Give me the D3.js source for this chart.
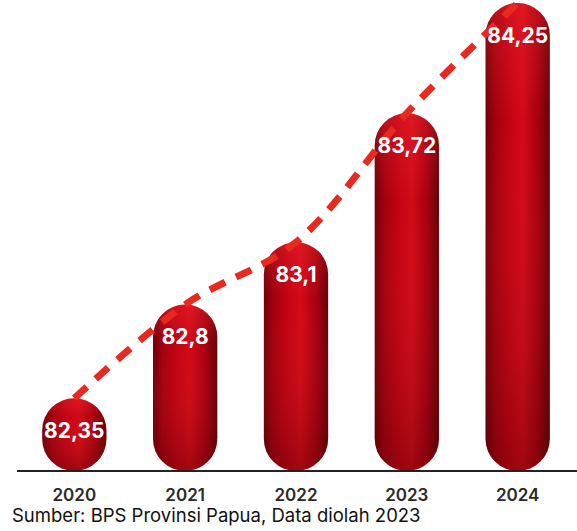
<!DOCTYPE html>
<html lang="id">
<head>
<meta charset="UTF-8">
<title>Chart</title>
<style>
  body { margin: 0; background: #fff; }
  svg { display: block; }
</style>
</head>
<body>
<div id="chart"></div>
<script src="https://d3js.org/d3.v7.min.js"></script>
<script>
// data
const years = ["2020", "2021", "2022", "2023", "2024"];
const values = [82.35, 82.8, 83.1, 83.72, 84.25];
const valueLabels = ["82,35", "82,8", "83,1", "83,72", "84,25"];
const source = "Sumber: BPS Provinsi Papua, Data diolah 2023";

const width = 577, height = 531;
const baseY = 471;

const svg = d3.select("#chart").append("svg")
  .attr("width", width)
  .attr("height", height);

const x = d3.scaleBand()
  .domain(years)
  .range([20, 572])
  .paddingInner(0.42)
  .paddingOuter(0.2);

const y = d3.scaleLinear()
  .domain([82, 84.25])
  .range([baseY, 3]);

const bw = x.bandwidth();

// gradients
const defs = svg.append("defs");
const grad = defs.append("linearGradient")
  .attr("id", "barGrad")
  .attr("x1", "0%").attr("x2", "100%").attr("y1", "0%").attr("y2", "0%");
grad.selectAll("stop")
  .data([
    ["0%", "#6e0008"], ["15%", "#a3000e"], ["40%", "#c60414"],
    ["58%", "#d20a18"], ["82%", "#a5000f"], ["100%", "#620006"]
  ])
  .join("stop")
  .attr("offset", d => d[0])
  .attr("stop-color", d => d[1]);

const shine = defs.append("linearGradient")
  .attr("id", "shine")
  .attr("x1", "0%").attr("x2", "0%").attr("y1", "0%").attr("y2", "100%");
shine.append("stop").attr("offset", "0%").attr("stop-color", "#ff4040").attr("stop-opacity", 0.25);
shine.append("stop").attr("offset", "25%").attr("stop-color", "#ff4040").attr("stop-opacity", 0);
shine.append("stop").attr("offset", "100%").attr("stop-color", "#300000").attr("stop-opacity", 0.3);

// bars (pill shape)
const bars = svg.append("g");
years.forEach((yr, i) => {
  const top = y(values[i]);
  const h = baseY - top;
  bars.append("rect")
    .attr("x", x(yr))
    .attr("y", top)
    .attr("width", bw)
    .attr("height", h)
    .attr("rx", bw / 2)
    .attr("fill", "url(#barGrad)");
  bars.append("rect")
    .attr("x", x(yr))
    .attr("y", top)
    .attr("width", bw)
    .attr("height", h)
    .attr("rx", bw / 2)
    .attr("fill", "url(#shine)");
});

// baseline
svg.append("line")
  .attr("x1", 17).attr("x2", width)
  .attr("y1", baseY).attr("y2", baseY)
  .attr("stroke", "#222")
  .attr("stroke-width", 2);

// dashed trend line
const pts = years.map((yr, i) => [x(yr) + bw / 2, y(values[i])]);
const line = d3.line().curve(d3.curveCatmullRom.alpha(0.5));
svg.append("path")
  .attr("d", line(pts))
  .attr("fill", "none")
  .attr("stroke", "#e8291f")
  .attr("stroke-width", 7)
  .attr("stroke-dasharray", "17 12");

// value labels
svg.append("g").selectAll("text")
  .data(years)
  .join("text")
  .attr("x", d => x(d) + bw / 2)
  .attr("y", (d, i) => y(values[i]) + bw / 2)
  .attr("dy", "0.36em")
  .attr("text-anchor", "middle")
  .attr("fill", "#fff")
  .attr("font-family", "Inter, sans-serif")
  .attr("font-weight", 700)
  .attr("font-size", 21)
  .text((d, i) => valueLabels[i]);

// year labels
svg.append("g").selectAll("text")
  .data(years)
  .join("text")
  .attr("x", d => x(d) + bw / 2)
  .attr("y", 495)
  .attr("dy", "0.36em")
  .attr("text-anchor", "middle")
  .attr("fill", "#2a2a2a")
  .attr("font-family", "Inter, sans-serif")
  .attr("font-weight", 600)
  .attr("font-size", 17)
  .text(d => d);

svg.append("text")
  .attr("x", 12)
  .attr("y", 522)
  .attr("fill", "#111")
  .attr("font-family", "Inter, sans-serif")
  .attr("font-size", 18.5)
  .text(source);
</script>
</body>
</html>
